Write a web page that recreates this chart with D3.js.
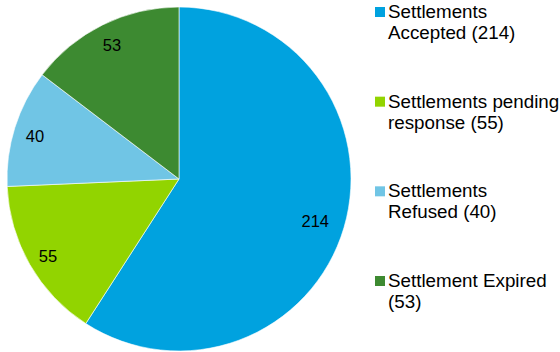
<!DOCTYPE html>
<html>
<head>
<meta charset="utf-8">
<script src="https://cdn.jsdelivr.net/npm/d3@7"></script>
<style>
  html, body { margin: 0; padding: 0; background: #ffffff; }
  svg { display: block; font-family: "Liberation Sans", Arial, sans-serif; }
</style>
</head>
<body>
<svg id="chart" width="560" height="352"></svg>
<script>
// Settlement outcomes
const categories = ["Settlements Accepted", "Settlements pending response", "Settlements Refused", "Settlement Expired"];
const values = [214, 55, 40, 53];
const colors = ["#00A2DF", "#92D400", "#70C5E5", "#3D8A31"];
// Legend text as it wraps on two lines
const legendLines = [
  ["Settlements", "Accepted (214)"],
  ["Settlements pending", "response (55)"],
  ["Settlements", "Refused (40)"],
  ["Settlement Expired", "(53)"]
];

const svg = d3.select("#chart");
const cx = 179, cy = 179, radius = 172;

const data = categories.map((c, i) => ({ name: c, value: values[i], color: colors[i] }));

const pie = d3.pie().value(d => d.value).sort(null);
const arcs = pie(data);
const arc = d3.arc().innerRadius(0).outerRadius(radius);
// Large slices get their label a little further inside
const labelRadius = d => (d.endAngle - d.startAngle > Math.PI ? 142 : 151);

const g = svg.append("g").attr("transform", `translate(${cx},${cy})`);

g.selectAll("path.slice")
  .data(arcs)
  .join("path")
  .attr("class", "slice")
  .attr("d", arc)
  .attr("fill", d => d.data.color)
  .attr("stroke", "#ffffff")
  .attr("stroke-width", 0.6);

g.selectAll("text.val")
  .data(arcs)
  .join("text")
  .attr("class", "val")
  .attr("transform", d => {
    const r = labelRadius(d);
    const c = d3.arc().innerRadius(r).outerRadius(r).centroid(d);
    return `translate(${c[0]},${c[1] + 2})`;
  })
  .attr("text-anchor", "middle")
  .attr("dy", "0.35em")
  .attr("font-size", 16.5)
  .attr("fill", "#000000")
  .text(d => d.data.value);

// Legend
const legendY = d3.scaleLinear().domain([0, 3]).range([18, 287]);
const legend = svg.append("g");
const items = legend.selectAll("g.item")
  .data(data)
  .join("g")
  .attr("class", "item")
  .attr("transform", (d, i) => `translate(375,${legendY(i)})`);

items.append("rect")
  .attr("x", 0)
  .attr("y", -11)
  .attr("width", 10)
  .attr("height", 10)
  .attr("fill", d => d.color);

items.append("text")
  .attr("x", 13)
  .attr("y", 0)
  .attr("font-size", 18.8)
  .attr("fill", "#000000")
  .selectAll("tspan")
  .data((d, i) => legendLines[i])
  .join("tspan")
  .attr("x", 13)
  .attr("dy", (d, j) => j === 0 ? 0 : 21)
  .text(d => d);
</script>
</body>
</html>
